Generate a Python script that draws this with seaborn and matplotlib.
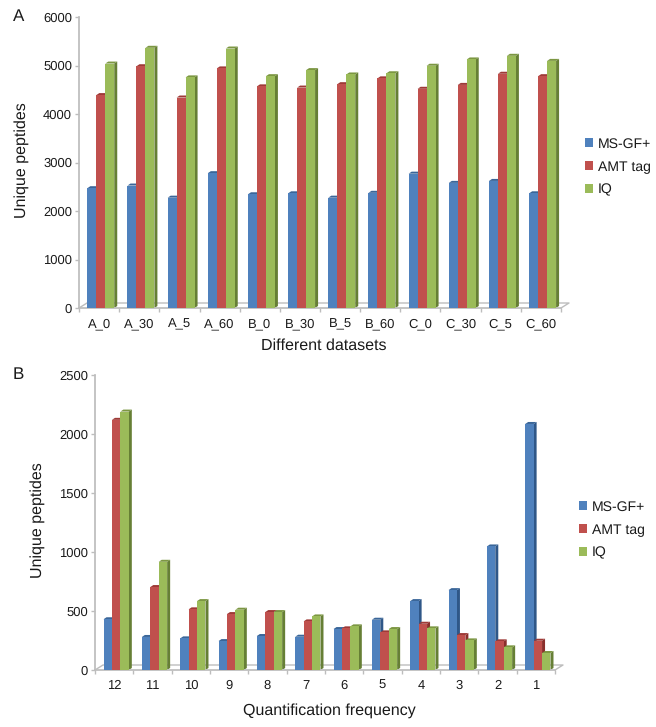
import matplotlib
matplotlib.use("Agg")
import matplotlib.pyplot as plt
from matplotlib.patches import Polygon
import numpy as np
import pandas as pd
import seaborn as sns

datasets = ['A_0', 'A_30', 'A_5', 'A_60', 'B_0', 'B_30', 'B_5', 'B_60', 'C_0', 'C_30', 'C_5', 'C_60']
msgf_a = [2470, 2525, 2275, 2780, 2345, 2365, 2275, 2375, 2770, 2580, 2620, 2365]
amt_a = [4390, 4985, 4340, 4940, 4570, 4545, 4615, 4735, 4520, 4600, 4830, 4780]
iq_a = [5040, 5365, 4755, 5350, 4780, 4905, 4815, 4840, 4995, 5125, 5200, 5095]

frequency = ['12', '11', '10', '9', '8', '7', '6', '5', '4', '3', '2', '1']
msgf_b = [430, 280, 268, 245, 288, 282, 347, 426, 584, 677, 1047, 2085]
amt_b = [2120, 703, 514, 474, 491, 412, 353, 319, 392, 296, 243, 248]
iq_b = [2190, 917, 584, 511, 491, 454, 370, 347, 353, 251, 192, 144]

methods = ['MS-GF+', 'AMT tag', 'IQ']
colors = ['#4F81BD', '#C0504D', '#9BBB59']
side_colors = ['#2F5788', '#8A2F2C', '#667F35']
top_colors = ['#3A6699', '#9E3A37', '#7C9742']
grey = '#BDBDBD'
W, H = 656, 727

sns.set_theme(style='white')
plt.rcParams['font.family'] = ['Liberation Sans', 'DejaVu Sans']
plt.rcParams['text.color'] = '#1a1a1a'
plt.rcParams['text.hinting'] = 'no_hinting'
plt.rcParams['text.hinting_factor'] = 1

fig = plt.figure(figsize=(W / 100, H / 100), dpi=100)


def draw_panel(rect, cats, series, ymax, step, xlabel, xlabel_xy, ylabel_xy, legend_xy, letter, letter_y, width, shift):
    left, top, right, bottom = rect
    ax = fig.add_axes([left / W, 1 - bottom / H, (right - left) / W, (bottom - top) / H])
    df = pd.DataFrame({'cat': cats})
    for name, vals in zip(methods, series):
        df[name] = vals
    long_df = df.melt(id_vars='cat', var_name='method', value_name='peptides')
    sns.barplot(data=long_df, x='cat', y='peptides', hue='method', order=cats, hue_order=methods,
                palette=colors, width=width, gap=0, saturation=1, linewidth=0, ax=ax, zorder=3)
    ax.set_xlim(-0.5, len(cats) - 0.5)
    ax.set_ylim(0, ymax)

    # fake the excel 3d look, depth given in pixels
    px_x = len(cats) / (right - left)
    px_y = ymax / (bottom - top)
    dx, dy = 3 * px_x, 2 * px_y
    for i, cont in enumerate(ax.containers):
        for bar in cont:
            bar.set_x(bar.get_x() + shift * px_x)
            x0, x1 = bar.get_x(), bar.get_x() + bar.get_width()
            h = bar.get_height()
            ax.add_patch(Polygon([(x1, 0), (x1 + dx, dy), (x1 + dx, h + dy), (x1, h)], fc=side_colors[i], lw=0, zorder=2))
            ax.add_patch(Polygon([(x0, h), (x0 + dx, h + dy), (x1 + dx, h + dy), (x1, h)], fc=top_colors[i], lw=0, zorder=2.5))

    # floor of the chart
    fx = np.array([-0.5, -0.5 + 8 * px_x, len(cats) - 0.5 + 8 * px_x, len(cats) - 0.5])
    fy = np.array([0, 5 * px_y, 5 * px_y, 0])
    ax.plot(fx, fy, color=grey, lw=1, clip_on=False, zorder=1)

    ax.set_yticks(np.arange(0, ymax + 1, step))
    ax.set_xticks(range(len(cats)))
    ax.set_xticklabels(cats)
    ax.set_xticks(np.arange(-0.5, len(cats)), minor=True)
    ax.tick_params(axis='x', which='major', length=0, pad=7, labelsize=9.7, labelcolor='#1a1a1a')
    ax.tick_params(axis='x', which='minor', bottom=True, length=3, width=1, color=grey)
    ax.tick_params(axis='y', left=True, length=3, width=1, color=grey, pad=2, labelsize=9.7, labelcolor='#1a1a1a')
    sns.despine(ax=ax)
    ax.spines['left'].set_color(grey)
    ax.spines['bottom'].set_color(grey)
    ax.set_xlabel('')
    ax.set_ylabel('')

    fig.text(xlabel_xy[0] / W, 1 - xlabel_xy[1] / H, xlabel, ha='center', va='center', fontsize=11.5)
    fig.text(ylabel_xy[0] / W, 1 - ylabel_xy[1] / H, 'Unique peptides', rotation=90, ha='center', va='center', fontsize=11.5)
    fig.text(13 / W, 1 - letter_y / H, letter, ha='left', va='center', fontsize=12)

    sns.move_legend(ax, 'center left', bbox_to_anchor=(legend_xy[0] / W, 1 - legend_xy[1] / H),
                    bbox_transform=fig.transFigure, title=None, frameon=False, fontsize=10,
                    handlelength=0.6, handleheight=0.6, handletextpad=0.35, labelspacing=0.72,
                    borderpad=0, borderaxespad=0)


draw_panel((79, 17, 561, 308), datasets, [msgf_a, amt_a, iq_a], 6000, 1000, 'Different datasets',
           (324, 346), (22, 160), (585, 167), 'A', 17, 0.67, 1.7)
draw_panel((95, 375, 555, 670), frequency, [msgf_b, amt_b, iq_b], 2500, 500, 'Quantification frequency',
           (329, 711), (38, 520), (579, 530), 'B', 375, 0.66, 2.0)

fig.savefig('out.png', dpi=100)
